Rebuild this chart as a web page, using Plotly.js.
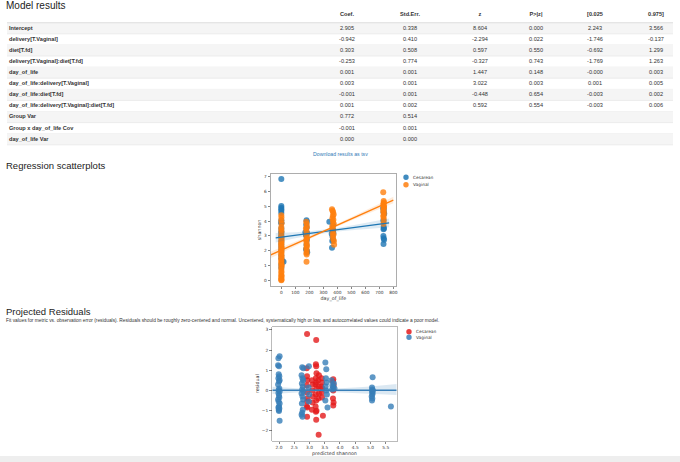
<!DOCTYPE html>
<html>
<head>
<meta charset="utf-8">
<script src="https://cdn.plot.ly/plotly-3.0.1.min.js"></script>
<style>
  body { margin: 0; background: #fff; }
  #page { width: 680px; height: 462px; }
</style>
</head>
<body>
<div id="page"></div>
<script>
// model results table
var terms = ["Intercept", "delivery[T.Vaginal]", "diet[T.fd]", "delivery[T.Vaginal]:diet[T.fd]",
  "day_of_life", "day_of_life:delivery[T.Vaginal]", "day_of_life:diet[T.fd]",
  "day_of_life:delivery[T.Vaginal]:diet[T.fd]", "Group Var", "Group x day_of_life Cov", "day_of_life Var"];
var headers = ["Coef.", "Std.Err.", "z", "P>|z|", "[0.025", "0.975]"];
var coef = [2.905, -0.942, 0.303, -0.253, 0.001, 0.003, -0.001, 0.001, 0.772, -0.001, 0.000];
var stdErr = [0.338, 0.410, 0.508, 0.774, 0.001, 0.001, 0.001, 0.002, 0.514, 0.001, 0.000];
var zVal = [8.604, -2.294, 0.597, -0.327, 1.447, 3.022, -0.448, 0.592, null, null, null];
var pVal = [0.000, 0.022, 0.550, 0.743, 0.148, 0.003, 0.654, 0.554, null, null, null];
var ciLow = [2.243, -1.746, -0.692, -1.769, -0.0004, 0.001, -0.003, -0.003, null, null, null];
var ciHigh = [3.566, -0.137, 1.299, 1.263, 0.003, 0.005, 0.002, 0.006, null, null, null];

// regression scatterplot: shannon vs day_of_life
var cesDay = [0,0,0,0,0,0,0,0,0,0,0,0,0,0,0,0,0,0,0,0,7,16,0,0,
  180,182,178,181,172,184,176,179,183,180,177,182,185,
  343,370,365,368,372,360,366,369,364,362,
  730,728,732,730,735,729,731,733,730,729,731,734,730];
var cesShannon = [6.85,5.02,4.9,4.8,4.7,4.55,4.05,3.9,3.85,3.5,3.3,3.2,3.0,2.9,2.6,2.4,2.2,2.0,1.7,1.5,1.3,1.25,1.05,0.85,
  4.05,3.95,3.75,3.55,3.25,3.2,3.1,3.0,2.75,2.4,2.1,2.0,1.9,
  3.95,3.7,3.45,3.35,3.2,3.15,2.95,2.75,2.65,2.2,
  4.95,4.85,4.75,4.6,4.5,4.05,3.6,3.5,3.45,3.0,2.85,2.75,2.45];
var vagDay = [0,1,0,2,0,0,1,0,0,2,0,1,0,0,0,2,0,0,1,0,0,2,0,0,1,0,0,3,0,0,1,0,0,2,0,0,1,0,
  178,181,183,176,180,182,179,184,177,181,180,183,178,182,179,181,180,
  362,366,370,374,368,365,372,369,375,364,367,371,366,373,368,370,376,377,
  728,731,733,730,729,732,734,730,731,728,733,730,729,732,731,730];
var vagShannon = [4.4,4.25,4.05,3.85,3.6,3.45,3.3,3.1,2.95,2.8,2.7,2.6,2.5,2.4,2.3,2.2,2.1,2.0,1.9,1.8,1.7,1.6,1.5,1.4,1.3,1.2,1.1,1.0,0.9,0.75,0.6,0.5,0.35,0.3,0.2,0.1,0.05,0.0,
  3.95,3.8,3.6,3.5,3.3,3.15,3.0,2.85,2.7,2.55,2.4,2.3,2.15,2.0,1.85,1.75,1.25,
  4.8,4.7,4.6,4.45,4.35,4.2,4.1,3.95,3.8,3.65,3.5,3.4,3.25,3.1,3.0,2.8,2.65,2.4,
  5.95,5.35,5.25,5.2,5.1,5.0,4.95,4.85,4.75,4.65,4.55,4.4,4.3,4.15,3.95,3.8];

// fitted lines and 95% bands
var cesFitDay = [-40, 0, 100, 200, 300, 400, 500, 600, 700, 770];
var cesFit = [2.87, 2.92, 3.05, 3.17, 3.30, 3.42, 3.55, 3.67, 3.80, 3.88];
var cesFitHi = [3.19, 3.20, 3.25, 3.31, 3.41, 3.54, 3.71, 3.87, 4.05, 4.17];
var cesFitLo = [2.55, 2.64, 2.85, 3.03, 3.19, 3.30, 3.39, 3.47, 3.55, 3.59];
var vagFitDay = [-75, 0, 100, 200, 300, 400, 500, 600, 700, 800];
var vagFit = [1.72, 2.04, 2.46, 2.88, 3.30, 3.73, 4.15, 4.57, 5.00, 5.42];
var vagFitHi = [1.94, 2.22, 2.60, 2.99, 3.39, 3.82, 4.26, 4.71, 5.18, 5.64];
var vagFitLo = [1.50, 1.86, 2.32, 2.77, 3.21, 3.64, 4.04, 4.43, 4.82, 5.20];

// projected residuals: residual vs predicted shannon
var cesPred = [2.92,2.91,2.92,2.93,2.91,2.92,2.93,2.92,2.91,2.93,2.92,
  3.08,3.1,3.09,3.11,3.1,3.08,
  3.22,3.21,3.22,3.23,3.21,3.22,3.2,3.23,3.21,3.22,3.2,3.23,3.21,3.22,
  3.3,3.31,3.29,3.3,3.31,3.29,
  3.4,3.41,3.39,3.42,3.4,3.41,3.44,
  3.78,3.77,3.79,3.78,3.77,3.79,3.78];
var cesResid = [2.8,1.1,0.7,0.5,0.25,-0.1,-0.4,-0.55,-0.8,-0.85,-1.3,
  0.5,0.3,0.0,-0.3,-0.6,-0.95,
  2.5,1.3,1.2,0.85,0.6,0.4,0.3,0.1,-0.2,-0.5,-0.8,-1.0,-1.05,-1.45,
  -2.2,0.75,0.5,0.2,-0.15,-0.4,
  0.6,0.4,0.2,0.1,-0.1,-0.35,-1.25,
  0.55,0.45,0.25,0.0,-0.4,-0.6,-0.75];
var vagPred = [2.02,1.98,1.97,2.0,1.99,2.01,1.98,2.02,2.0,1.97,2.01,1.99,2.02,1.98,2.0,2.01,1.97,1.99,2.02,2.0,1.98,2.01,1.99,2.0,2.02,
  2.76,2.8,2.74,2.77,2.79,2.75,2.78,2.76,2.8,2.74,2.77,2.79,2.75,2.78,2.76,2.74,2.77,
  2.98,2.97,2.99,2.98,
  3.52,3.55,3.54,3.56,3.53,3.55,3.57,3.52,3.59,
  3.72,3.8,3.75,3.78,3.82,3.74,
  5.07,5.05,5.06,5.08,5.05,5.07,5.06,5.04,5.06,5.05,
  5.67];
var vagResid = [1.7,1.6,1.25,1.2,0.8,0.7,0.6,0.5,0.45,0.3,0.1,0.02,-0.05,-0.12,-0.25,-0.35,-0.45,-0.55,-0.65,-0.8,-0.85,-0.9,-0.97,-1.02,-1.5,
  1.15,1.1,0.75,0.6,0.5,0.35,0.2,0.05,-0.05,-0.15,-0.3,-0.45,-0.65,-0.95,-1.1,-1.2,-1.3,
  1.2,0.15,-0.2,-0.55,
  1.38,1.05,0.6,0.4,0.2,0.0,-0.2,-0.5,-0.85,
  0.5,0.35,0.25,0.15,0.1,0.05,
  0.65,0.15,0.05,0.0,-0.05,-0.12,-0.2,-0.3,-0.4,-0.5,
  -0.8];
var residFitX = [1.78, 2.5, 3.0, 3.5, 4.0, 4.5, 5.0, 5.5, 5.86];
var residFit = [0.01, 0.01, 0.0, 0.0, 0.0, 0.0, 0.0, 0.01, 0.01];
var residFitHi = [0.19, 0.11, 0.07, 0.07, 0.1, 0.15, 0.2, 0.27, 0.32];
var residFitLo = [-0.17, -0.09, -0.07, -0.07, -0.1, -0.14, -0.18, -0.2, -0.22];

// page geometry helpers (pixels -> paper)
var W = 680, H = 462;
function px(x) { return x / W; }
function py(y) { return 1 - y / H; }

// table layout: centre of each numeric column, label column start (page px)
var colCenters = [347, 410, 480, 536, 595, 656];
var labelLeft = 9;
var headerRow = -1.2;

var fmt = function(v) { return v === null ? "" : v.toFixed(3); };
var numCols = [coef, stdErr, zVal, pVal, ciLow, ciHigh];
var rowIdx = terms.map((t, i) => i);
var cellFont = {family: "Liberation Sans, Arial", size: 5.6, color: "#333"};

var tableTraces = [
  {type: "scatter", mode: "text", xaxis: "x3", yaxis: "y3", hoverinfo: "skip",
    x: terms.map(() => labelLeft), y: rowIdx, text: terms, textposition: "middle right",
    textfont: Object.assign({weight: "bold"}, cellFont)},
  {type: "scatter", mode: "text", xaxis: "x3", yaxis: "y3", hoverinfo: "skip",
    x: colCenters, y: headers.map(() => headerRow), text: headers, textposition: "middle center",
    textfont: Object.assign({weight: "bold"}, cellFont)}
];
numCols.forEach(function(col, c) {
  tableTraces.push({type: "scatter", mode: "text", xaxis: "x3", yaxis: "y3", hoverinfo: "skip",
    x: col.map(() => colCenters[c]), y: rowIdx, text: col.map(fmt), textposition: "middle center",
    textfont: cellFont});
});

// stripes and row rules of the table
var tableShapes = [];
rowIdx.forEach(function(i) {
  if (i % 2 === 0) {
    tableShapes.push({type: "rect", xref: "paper", yref: "y3", x0: px(7), x1: px(673),
      y0: i - 0.5, y1: i + 0.5, fillcolor: "#f5f5f5", line: {width: 0}, layer: "below"});
  }
  tableShapes.push({type: "line", xref: "paper", yref: "y3", x0: px(7), x1: px(673),
    y0: i + 0.5, y1: i + 0.5, line: {color: "#e3e3e3", width: 0.6}, layer: "below"});
});
tableShapes.push({type: "line", xref: "paper", yref: "y3", x0: px(7), x1: px(673),
  y0: -0.5, y1: -0.5, line: {color: "#dddddd", width: 1.2}, layer: "below"});

function dots(x, y, color, xa, ya, name) {
  return {x: x, y: y, type: "scatter", mode: "markers", name: name, xaxis: xa, yaxis: ya,
    marker: {color: color, size: 6, opacity: 0.8}, hoverinfo: "skip"};
}
function band(x, lo, hi, color, xa, ya) {
  return [
    {x: x, y: hi, type: "scatter", mode: "lines", line: {width: 0}, xaxis: xa, yaxis: ya, hoverinfo: "skip"},
    {x: x, y: lo, type: "scatter", mode: "lines", line: {width: 0}, fill: "tonexty", fillcolor: color,
      xaxis: xa, yaxis: ya, hoverinfo: "skip"}
  ];
}
function fitLine(x, y, color, xa, ya) {
  return {x: x, y: y, type: "scatter", mode: "lines", line: {color: color, width: 1.3},
    xaxis: xa, yaxis: ya, hoverinfo: "skip"};
}

var data = tableTraces
  .concat([dots(cesDay, cesShannon, "#1f77b4", "x", "y", "Cesarean")])
  .concat([dots(vagDay, vagShannon, "#ff7f0e", "x", "y", "Vaginal")])
  .concat(band(cesFitDay, cesFitLo, cesFitHi, "rgba(31,119,180,0.15)", "x", "y"))
  .concat([fitLine(cesFitDay, cesFit, "#1f77b4", "x", "y")])
  .concat(band(vagFitDay, vagFitLo, vagFitHi, "rgba(255,127,14,0.15)", "x", "y"))
  .concat([fitLine(vagFitDay, vagFit, "#ff7f0e", "x", "y")])
  .concat([dots(cesPred, cesResid, "#e41a1c", "x2", "y2", "Cesarean")])
  .concat([dots(vagPred, vagResid, "#377eb8", "x2", "y2", "Vaginal")])
  .concat(band(residFitX, residFitLo, residFitHi, "rgba(55,126,184,0.18)", "x2", "y2"))
  .concat([fitLine(residFitX, residFit, "#377eb8", "x2", "y2")]);

var tickFont = {family: "DejaVu Sans", size: 4.3, color: "#333"};
var titleFont = {family: "DejaVu Sans", size: 4.8, color: "#333"};
function axis(dom, range, anchor, vals, texts, title, lineColor) {
  return {
    domain: dom, range: range, anchor: anchor, tickvals: vals, ticktext: texts,
    ticks: "outside", ticklen: 2.5, tickwidth: 0.6, tickcolor: "#333", tickfont: tickFont,
    showgrid: false, zeroline: false, showline: true, mirror: true,
    linecolor: lineColor, linewidth: 0.8, fixedrange: true,
    title: {text: title, font: titleFont, standoff: 2}
  };
}
function hiddenAxis(dom, range, anchor) {
  return {domain: dom, range: range, anchor: anchor, visible: false, fixedrange: true};
}

var legendShapes = [];
var annotations = [];
function legendItem(cx, cy, color, label) {
  legendShapes.push({type: "circle", xref: "paper", yref: "paper",
    x0: px(cx - 2.7), x1: px(cx + 2.7), y0: py(cy + 2.7), y1: py(cy - 2.7),
    fillcolor: color, opacity: 0.85, line: {width: 0}});
  annotations.push({xref: "paper", yref: "paper", x: px(cx + 5), y: py(cy), text: label,
    showarrow: false, xanchor: "left", yanchor: "middle",
    font: {family: "DejaVu Sans", size: 4.3, color: "#333"}});
}
legendItem(406, 177.3, "#1f77b4", "Cesarean");
legendItem(406, 184.8, "#ff7f0e", "Vaginal");
legendItem(409, 331.8, "#e41a1c", "Cesarean");
legendItem(409, 337.2, "#377eb8", "Vaginal");

function label(x, y, text, size, color, anchor) {
  annotations.push({xref: "paper", yref: "paper", x: px(x), y: py(y), text: text, showarrow: false,
    xanchor: anchor || "left", yanchor: "middle",
    font: {family: "Liberation Sans, Arial", size: size, color: color}});
}
label(4, 5, "Model results", 10, "#222");
label(340, 153.5, "Download results as tsv", 5.2, "#337ab7", "center");
label(4, 166, "Regression scatterplots", 9.5, "#222");
label(4, 311, "Projected Residuals", 9.5, "#222");
label(4, 320.5, "Fit values for metric vs. observation error (residuals). Residuals should be roughly zero-centered and normal. " +
  "Uncentered, systematically high or low, and autocorrelated values could indicate a poor model.", 4.8, "#333");

var layout = {
  width: W, height: H,
  margin: {l: 0, r: 0, t: 0, b: 0},
  paper_bgcolor: "#fff", plot_bgcolor: "rgba(0,0,0,0)",
  showlegend: false,
  xaxis: axis([px(271), px(395.7)], [-73.6, 817], "y", [0,100,200,300,400,500,600,700,800], null, "day_of_life", "#999"),
  yaxis: axis([py(285.7), py(174)], [-0.36, 7.18], "x", [0,1,2,3,4,5,6,7], null, "shannon", "#999"),
  xaxis2: axis([px(272.3), px(396.7)], [1.78, 5.86], "y2", [2,2.5,3,3.5,4,4.5,5,5.5],
    ["2.0","2.5","3.0","3.5","4.0","4.5","5.0","5.5"], "predicted shannon", "#aaa"),
  yaxis2: axis([py(440.7), py(326.7)], [-2.49, 3.16], "x2", [-2,-1,0,1,2,3], null, "residual", "#aaa"),
  xaxis3: hiddenAxis([0, 1], [0, W], "y3"),
  yaxis3: hiddenAxis([py(150), py(9)], [(150 - 28.3) / 11.1, (9 - 28.3) / 11.1], "x3"),
  shapes: tableShapes.concat(legendShapes).concat([
    {type: "rect", xref: "paper", yref: "paper", x0: 0, x1: 1, y0: 0, y1: py(456),
      fillcolor: "#eeeeee", line: {width: 0}, layer: "below"}
  ]),
  annotations: annotations
};

Plotly.newPlot("page", data, layout, {displayModeBar: false, staticPlot: true});
</script>
</body>
</html>
